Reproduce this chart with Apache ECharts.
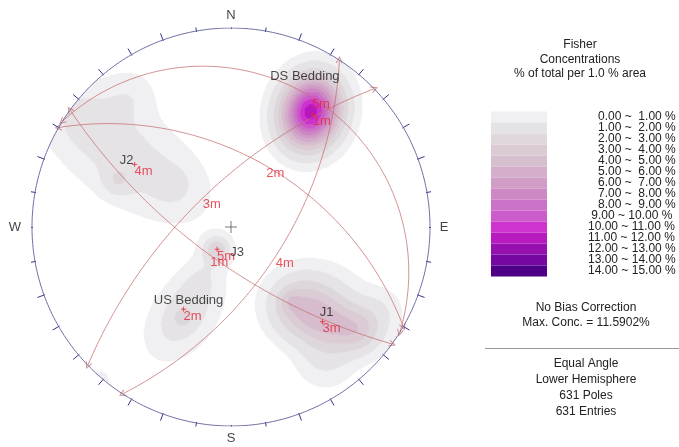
<!DOCTYPE html>
<html>
<head>
<meta charset="utf-8">
<script src="https://cdn.jsdelivr.net/npm/echarts@6/dist/echarts.min.js"></script>
<style>
html, body { margin: 0; padding: 0; background: #fff; }
#chart { width: 679px; height: 447px; }
</style>
</head>
<body>
<div id="chart"></div>
<script>
// ---- Mean set orientations (poles, lower hemisphere, degrees) ----
const setIds      = ['1m', '2m', '3m', '4m', '5m'];
const setNames    = ['DS Bedding', 'US Bedding', 'J1', 'J2', 'J3'];
const poleTrend   = [36, 210, 136, 303, 212];
const polePlunge  = [20, 39, 23, 30, 75];

// ---- Fisher concentration field, as a sum of elliptical kernels in net units ----
// DS Bedding | J2 (5) | J1 (7) | J3 | US Bedding (3) | rim
const kernX     = [0.402,  -0.533, -0.734, -0.568, -0.281, -0.508,  0.347, 0.523, 0.648, 0.296, 0.497, 0.750, 0.472,  -0.070,  -0.236, -0.241, -0.150, -0.658];
const kernY     = [0.580,   0.362,  0.563,  0.236,  0.211,  0.663, -0.392, -0.492, -0.518, -0.367, -0.372, -0.417, -0.668, -0.111, -0.442, -0.457, -0.256, -0.769];
const kernMajor = [0.118,   0.300,  0.100,  0.050,  0.080,  0.090,  0.110, 0.140, 0.070, 0.040, 0.120, 0.080, 0.100,   0.043,   0.160,  0.035,  0.120,  0.040];
const kernMinor = [0.098,   0.150,  0.100,  0.050,  0.080,  0.090,  0.110, 0.090, 0.070, 0.040, 0.120, 0.080, 0.100,   0.043,   0.100,  0.035,  0.060,  0.040];
const kernAngle = [75,      -35,    0,      0,      0,      0,      0,     -15,   0,     0,     0,     0,     0,       0,       55,     0,      60,     0];
const kernPeak  = [11.6,    1.4,    0.6,    1.2,    0.5,    0.7,    2.8,   3.0,   1.4,   1.0,   1.0,   0.8,   1.0,     2.6,     1.5,    1.0,    0.6,    0.7];

// ---- Contour intervals (% of total per 1.0 % area) ----
const levelMin = [0, 1, 2, 3, 4, 5, 6, 7, 8, 9, 10, 11, 12, 13, 14];
const levelMax = [1, 2, 3, 4, 5, 6, 7, 8, 9, 10, 11, 12, 13, 14, 15];
const levelLabels = [
  '0.00 ~  1.00 %', '1.00 ~  2.00 %', '2.00 ~  3.00 %', '3.00 ~  4.00 %', '4.00 ~  5.00 %',
  '5.00 ~  6.00 %', '6.00 ~  7.00 %', '7.00 ~  8.00 %', '8.00 ~  9.00 %', '9.00 ~ 10.00 %',
  '10.00 ~ 11.00 %', '11.00 ~ 12.00 %', '12.00 ~ 13.00 %', '13.00 ~ 14.00 %', '14.00 ~ 15.00 %'
];
const levelColors = [
  '#f0f0f2', '#e6e3e6', '#dfd7dc', '#dacbd5', '#d6bfcf', '#d3afcb', '#d09dc6', '#cc89c3',
  '#cb73c6', '#cc5bcc', '#cf33d0', '#b81ac0', '#9610b0', '#7508a0', '#4e0088'
];

const infoTop    = ['Fisher', 'Concentrations', '% of total per 1.0 % area'];
const infoMiddle = ['No Bias Correction', 'Max. Conc. = 11.5902%'];
const infoBottom = ['Equal Angle', 'Lower Hemisphere', '631 Poles', '631 Entries'];
const compass    = ['N', 'E', 'S', 'W'];

// ---- Styling / layout ----
const FONT = '"Liberation Sans", Arial, Helvetica, sans-serif';
const NET = { left: 32, top: 28, size: 398 };
const GRID_N = 398;                 // heatmap cells per side
const SET_LABEL_OFFSET = [[-8, -38], [5, -9], [4, -9], [-8, -4], [20, 3]];
const RED = '#e5283a';
const ARC = 'rgba(198, 108, 108, 0.75)';
const CHEVRON = 'path://M0,8L4,0L8,8';
const PLUS = 'path://M0,5L10,5M5,0L5,10';

const DEG = Math.PI / 180;

// Stereographic (equal angle) lower hemisphere projection of a unit vector (E, N, Down)
function projVec(e, n, d) { return [e / (1 + d), n / (1 + d)]; }
function projLine(trend, plunge) {
  const t = trend * DEG, p = plunge * DEG;
  return projVec(Math.cos(p) * Math.sin(t), Math.cos(p) * Math.cos(t), Math.sin(p));
}
function planeOfPole(trend, plunge) {
  return { dipDir: (trend + 180) % 360, dip: 90 - plunge };
}
function greatCircle(dipDir, dip) {
  const dd = dipDir * DEG, dp = dip * DEG;
  const s = [Math.sin(dd - Math.PI / 2), Math.cos(dd - Math.PI / 2), 0];
  const d = [Math.sin(dd) * Math.cos(dp), Math.cos(dd) * Math.cos(dp), Math.sin(dp)];
  const pts = [];
  for (let a = 0; a <= 180; a += 1) {
    const c = Math.cos(a * DEG), sn = Math.sin(a * DEG);
    pts.push(projVec(c * s[0] + sn * d[0], c * s[1] + sn * d[1], c * s[2] + sn * d[2]));
  }
  return pts;
}
// great circle points with an arrowhead at each end, pointing outwards along the arc
function arcWithHeads(pts) {
  const n = pts.length;
  const head = (p, q) => Math.atan2(p[1] - q[1], p[0] - q[0]) / DEG - 90;
  return pts.map((p, i) => {
    if (i === 0) return { value: p, symbol: CHEVRON, symbolSize: [6, 6], symbolRotate: head(pts[0], pts[3]) };
    if (i === n - 1) return { value: p, symbol: CHEVRON, symbolSize: [6, 6], symbolRotate: head(pts[n - 1], pts[n - 4]) };
    return { value: p, symbol: 'none' };
  });
}

// ---- density grid ----
function density(x, y) {
  let v = 0;
  for (let k = 0; k < kernX.length; k++) {
    const dx = x - kernX[k], dy = y - kernY[k];
    const c = Math.cos(kernAngle[k] * DEG), s = Math.sin(kernAngle[k] * DEG);
    const u = dx * c + dy * s, w = -dx * s + dy * c;
    v += kernPeak[k] * Math.exp(-(u * u) / (2 * kernMajor[k] * kernMajor[k]) - (w * w) / (2 * kernMinor[k] * kernMinor[k]));
  }
  return v;
}
const heatData = [];
const cats = [];
for (let i = 0; i < GRID_N; i++) cats.push(i);
for (let j = 0; j < GRID_N; j++) {
  const y = -1 + (j + 0.5) * 2 / GRID_N;
  for (let i = 0; i < GRID_N; i++) {
    const x = -1 + (i + 0.5) * 2 / GRID_N;
    if (x * x + y * y > 1) continue;
    const v = density(x, y);
    if (v >= 0.4) heatData.push([i, j, +v.toFixed(3)]);
  }
}

// ---- primitive circle and 10 degree ticks ----
const primitive = [];
for (let a = 0; a <= 360; a += 1) primitive.push([Math.sin(a * DEG), Math.cos(a * DEG)]);
const tickIn = 1 - 1 / 199, tickOut = 1 + 7 / 199;
const ticks = [];
for (let a = 0; a < 360; a += 10) {
  const sx = Math.sin(a * DEG), cy = Math.cos(a * DEG);
  ticks.push({ coords: [[sx * tickIn, cy * tickIn], [sx * tickOut, cy * tickOut]] });
}

// ---- great circles, poles, labels ----
const arcSeries = [];
const poleData = [], apexData = [], nameData = [];
for (let k = 0; k < setIds.length; k++) {
  const pl = planeOfPole(poleTrend[k], polePlunge[k]);
  arcSeries.push({
    type: 'line', xAxisIndex: 1, yAxisIndex: 1, data: arcWithHeads(greatCircle(pl.dipDir, pl.dip)),
    showSymbol: true, silent: true, z: 3,
    lineStyle: { color: ARC, width: 1 },
    itemStyle: { color: 'none', borderColor: ARC, borderWidth: 1 }
  });
  const p = projLine(poleTrend[k], polePlunge[k]);
  poleData.push({ value: p, label: { formatter: setIds[k] } });
  apexData.push({ value: projLine(pl.dipDir, pl.dip), label: { formatter: setIds[k] } });
  nameData.push({ value: p, label: { formatter: setNames[k], offset: SET_LABEL_OFFSET[k] } });
}

const option = {
  animation: false,
  backgroundColor: '#fff',
  grid: [
    { left: NET.left, top: NET.top, width: NET.size, height: NET.size },
    { left: NET.left, top: NET.top, width: NET.size, height: NET.size }
  ],
  xAxis: [
    { type: 'category', gridIndex: 0, data: cats, show: false },
    { type: 'value', gridIndex: 1, min: -1, max: 1, show: false }
  ],
  yAxis: [
    { type: 'category', gridIndex: 0, data: cats, show: false },
    { type: 'value', gridIndex: 1, min: -1, max: 1, show: false }
  ],
  visualMap: {
    type: 'piecewise', seriesIndex: 0, orient: 'vertical', align: 'left', inverse: true,
    left: 491, top: 111, padding: 0, itemWidth: 56, itemHeight: 11, itemGap: -1, itemSymbol: 'rect',
    textGap: 41, selectedMode: false, hoverLink: false,
    pieces: levelMin.map((m, k) => ({
      min: m, max: levelMax[k], color: levelColors[k],
      label: (levelMin[k] < 9 ? '   ' : (levelMin[k] < 10 ? ' ' : '')) + levelLabels[k]
    })),
    textStyle: { fontFamily: FONT, fontSize: 12, color: '#222' },
    outOfRange: { color: 'rgba(255,255,255,0)' }
  },
  graphic: [].concat(
    infoTop.map((t, i) => ({ type: 'text', x: 580, y: 45 + i * 14.5,
      style: { text: t, align: 'center', verticalAlign: 'middle', font: '12px ' + FONT, fill: '#222' } })),
    infoMiddle.map((t, i) => ({ type: 'text', x: 586, y: 308 + i * 15,
      style: { text: t, align: 'center', verticalAlign: 'middle', font: '12px ' + FONT, fill: '#222' } })),
    [{ type: 'line', shape: { x1: 485, y1: 348.5, x2: 679, y2: 348.5 }, style: { stroke: '#999', lineWidth: 1 } }],
    infoBottom.map((t, i) => ({ type: 'text', x: 586, y: 364 + i * 16,
      style: { text: t, align: 'center', verticalAlign: 'middle', font: '12px ' + FONT, fill: '#222' } }))
  ),
  series: [
    {
      type: 'heatmap', xAxisIndex: 0, yAxisIndex: 0, data: heatData,
      progressive: 0, silent: true, z: 1, itemStyle: { borderWidth: 0 }
    },
    {
      type: 'line', xAxisIndex: 1, yAxisIndex: 1, data: primitive, showSymbol: false, symbol: 'none',
      silent: true, z: 4, lineStyle: { color: '#6f6fa6', width: 1 }
    },
    {
      type: 'lines', coordinateSystem: 'cartesian2d', xAxisIndex: 1, yAxisIndex: 1, data: ticks,
      silent: true, z: 4, lineStyle: { color: '#34348a', width: 1, opacity: 1 }
    },
    ...arcSeries,
    {
      // centre cross
      type: 'scatter', xAxisIndex: 1, yAxisIndex: 1, data: [[0, 0]], symbol: PLUS, symbolSize: 12,
      silent: true, z: 5, itemStyle: { color: 'none', borderColor: '#555', borderWidth: 1 }
    },
    {
      // compass letters
      type: 'scatter', xAxisIndex: 1, yAxisIndex: 1, symbolSize: 0, silent: true, z: 5,
      data: [
        { value: [0, 1], label: { formatter: compass[0], offset: [0, -13] } },
        { value: [1, 0], label: { formatter: compass[1], offset: [14, 0] } },
        { value: [0, -1], label: { formatter: compass[2], offset: [0, 12] } },
        { value: [-1, 0], label: { formatter: compass[3], offset: [-17, 0] } }
      ],
      label: { show: true, position: 'inside', color: '#111', fontFamily: FONT, fontSize: 13 }
    },
    {
      // mean set poles
      type: 'scatter', xAxisIndex: 1, yAxisIndex: 1, data: poleData, symbol: PLUS, symbolSize: 5,
      silent: true, z: 6, itemStyle: { color: 'none', borderColor: RED, borderWidth: 1 },
      label: { show: true, position: 'inside', offset: [9, 7], color: RED, fontFamily: FONT, fontSize: 13 }
    },
    {
      // mean plane labels at the dip-direction point of each great circle
      type: 'scatter', xAxisIndex: 1, yAxisIndex: 1, data: apexData, symbolSize: 0,
      silent: true, z: 6,
      label: { show: true, position: 'inside', offset: [9, 7], color: RED, fontFamily: FONT, fontSize: 13 }
    },
    {
      // set names
      type: 'scatter', xAxisIndex: 1, yAxisIndex: 1, data: nameData, symbolSize: 0,
      silent: true, z: 7,
      label: { show: true, position: 'inside', color: '#1a1a1a', fontFamily: FONT, fontSize: 13 }
    }
  ]
};

const chart = echarts.init(document.getElementById('chart'), null, { renderer: 'canvas' });
chart.setOption(option);
</script>
</body>
</html>
